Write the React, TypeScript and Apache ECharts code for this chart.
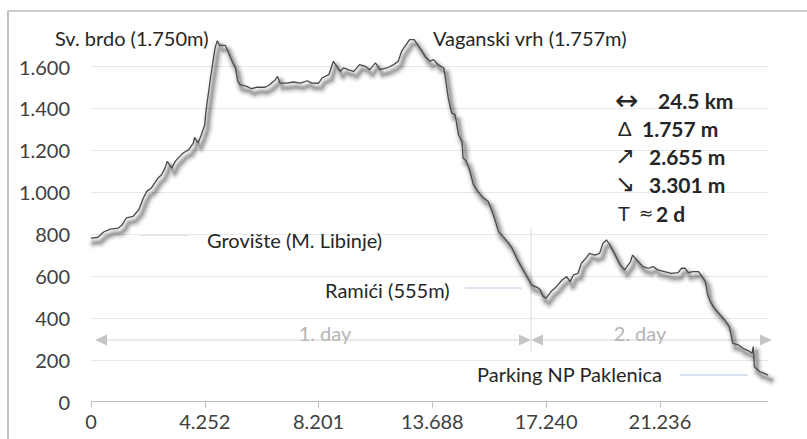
import React, { useEffect, useRef } from "react";
import * as echarts from "echarts";

// x position in category-index units (100 units between labelled ticks)
const distIdx = [
  0, 6, 11, 17, 24, 27, 31, 37, 42, 46,
  49, 53, 56, 59, 62, 65, 67, 71, 74, 78,
  81, 86, 90, 91, 94, 97, 100, 101, 103, 105,
  109, 111, 113, 118, 121, 124, 127, 129, 131, 137,
  141, 146, 153, 157, 162, 164, 166, 172, 178, 184,
  190, 194, 200, 203, 209, 213, 216, 219, 222, 226,
  231, 236, 241, 245, 250, 254, 260, 266, 270, 273,
  277, 280, 284, 288, 291, 294, 298, 301, 305, 310,
  311, 314, 317, 320, 323, 326, 327, 330, 333, 336,
  340, 345, 349, 352, 355, 358, 362, 367, 370, 374,
  378, 383, 387, 393, 395, 397, 400, 405, 409, 414,
  418, 421, 424, 428, 431, 436, 438, 443, 447, 450,
  453, 456, 460, 465, 469, 474, 476, 481, 485, 490,
  494, 498, 504, 510, 516, 519, 522, 525, 529, 534,
  537, 540, 542, 545, 548, 553, 557, 561, 564, 569,
  573, 578, 581, 582, 583, 588, 592, 595,
];

const elevation = [
  781, 785, 810, 824, 829, 842, 877, 885, 916, 972,
  1004, 1020, 1044, 1068, 1083, 1115, 1147, 1115, 1147, 1171,
  1187, 1203, 1235, 1262, 1235, 1274, 1322, 1386, 1465, 1545,
  1688, 1723, 1701, 1701, 1664, 1625, 1593, 1529, 1513, 1505,
  1494, 1501, 1501, 1513, 1537, 1553, 1521, 1521, 1526, 1521,
  1532, 1521, 1520, 1545, 1561, 1625, 1601, 1577, 1593, 1585,
  1577, 1609, 1601, 1585, 1617, 1585, 1593, 1609, 1625, 1673,
  1704, 1728, 1728, 1696, 1673, 1645, 1625, 1633, 1609, 1593,
  1561, 1450, 1378, 1370, 1274, 1243, 1163, 1147, 1100, 1036,
  1004, 972, 957, 916, 869, 813, 789, 757, 734, 686,
  646, 599, 558, 543, 533, 505, 494, 530, 549, 581,
  597, 573, 605, 613, 661, 692, 708, 700, 708, 756,
  772, 748, 708, 653, 629, 668, 700, 668, 645, 637,
  645, 629, 621, 613, 616, 637, 637, 616, 621, 621,
  597, 573, 509, 470, 446, 414, 390, 358, 279, 271,
  255, 243, 231, 263, 167, 143, 135, 127,
];

const xTickLabels = ["0", "4.252", "8.201", "13.688", "17.240", "21.236"];

const FONT = "Lato";
const FS = 20;

function fmtThousands(v: number): string {
  if (v >= 1000) {
    const t = Math.floor(v / 1000);
    const r = String(v % 1000).padStart(3, "0");
    return `${t}.${r}`;
  }
  return String(v);
}

function txt(text: string, x: number, y: number, opts: any = {}) {
  return {
    type: "text",
    x,
    y,
    silent: true,
    z: 10,
    style: {
      text,
      fill: opts.fill || "#262626",
      fontSize: opts.fontSize || FS,
      fontFamily: opts.fontFamily || FONT,
      fontWeight: opts.bold ? "bold" : "normal",
      align: opts.align || "left",
      verticalAlign: "middle",
    },
  };
}

function hline(x1: number, x2: number, y: number, color: string, w = 1) {
  return {
    type: "line",
    silent: true,
    shape: { x1, y1: y, x2, y2: y },
    style: { stroke: color, lineWidth: w },
  };
}

function tri(points: number[][], color: string) {
  return {
    type: "polygon",
    silent: true,
    shape: { points },
    style: { fill: color },
  };
}

const GRID = { left: 91, right: 39, top: 24.6, bottom: 37.3 };
const SH_DX = 3;
const SH_DY = 5;

export default function App() {
  const ref = useRef<HTMLDivElement>(null);

  useEffect(() => {
    if (!ref.current) return;
    const chart = echarts.init(ref.current, null, { renderer: "svg" });
    const data = distIdx.map((x, i) => [x, elevation[i]]);
    const arrowGray = "#c4c4c4";
    const leader = "#b9c9e2";

    const xBase = { type: "value", min: 0, max: 595, interval: 100 };
    const yBase = { type: "value", min: 0, max: 1800, interval: 200 };
    const hiddenAxis = {
      axisLine: { show: false },
      axisTick: { show: false },
      axisLabel: { show: false },
      splitLine: { show: false },
    };

    const shadowLayers = [
      { w: 12, o: 0.04 },
      { w: 9, o: 0.06 },
      { w: 6.5, o: 0.08 },
      { w: 4.5, o: 0.1 },
      { w: 2.5, o: 0.12 },
    ];

    chart.setOption({
      animation: false,
      backgroundColor: "#ffffff",
      grid: [
        { ...GRID, containLabel: false },
        {
          left: GRID.left + SH_DX,
          right: GRID.right - SH_DX,
          top: GRID.top + SH_DY,
          bottom: GRID.bottom - SH_DY,
          containLabel: false,
        },
      ],
      xAxis: [
        {
          ...xBase,
          gridIndex: 0,
          axisLine: { show: true, lineStyle: { color: "#bfbfbf", width: 1 } },
          axisTick: { show: true, length: 6, lineStyle: { color: "#bfbfbf" } },
          splitLine: { show: false },
          axisLabel: {
            showMaxLabel: false,
            color: "#404040",
            fontFamily: FONT,
            fontSize: FS,
            margin: 9,
            formatter: (v: number) => {
              const k = Math.round(v / 100);
              return v % 100 === 0 && xTickLabels[k] !== undefined ? xTickLabels[k] : "";
            },
          },
        },
        { ...xBase, gridIndex: 1, ...hiddenAxis },
      ],
      yAxis: [
        {
          ...yBase,
          gridIndex: 0,
          axisLine: { show: false },
          axisTick: { show: false },
          splitLine: {
            show: true,
            showMinLine: false,
            showMaxLine: false,
            lineStyle: { color: "#e8e8e8", width: 1 },
          },
          axisLabel: {
            showMaxLabel: false,
            color: "#404040",
            fontFamily: FONT,
            fontSize: FS,
            margin: 21,
            formatter: (v: number) => (v >= 1800 ? "" : fmtThousands(v)),
          },
        },
        { ...yBase, gridIndex: 1, ...hiddenAxis },
      ],
      series: [
        ...shadowLayers.map((l) => ({
          type: "line",
          xAxisIndex: 1,
          yAxisIndex: 1,
          data,
          showSymbol: false,
          symbol: "none",
          silent: true,
          lineStyle: { color: "#000000", width: l.w, opacity: l.o, join: "round", cap: "round" },
          z: 3,
        })),
        {
          type: "line",
          xAxisIndex: 0,
          yAxisIndex: 0,
          data,
          showSymbol: false,
          symbol: "none",
          lineStyle: { color: "#4a4a4a", width: 1.3 },
          z: 5,
        },
      ],
      graphic: {
        elements: [
          // frame
          hline(8, 807, 11, "#9a9a9a", 1),
          { type: "line", silent: true, shape: { x1: 8, y1: 11, x2: 8, y2: 439 }, style: { stroke: "#c0c0c0", lineWidth: 2 } },
          // peak labels
          txt("Sv. brdo (1.750m)", 55, 38),
          txt("Vaganski vrh (1.757m)", 433, 38),
          // stats block
          txt("\u2194", 615, 100, { fontSize: 28, fontFamily: "DejaVu Sans" }),
          txt("24.5 km", 658, 100, { bold: true, fontSize: 21 }),
          txt("\u0394", 618, 128, { fontSize: 20 }),
          txt("1.757 m", 642, 128, { bold: true, fontSize: 21 }),
          txt("\u2197", 615, 156, { fontSize: 24, fontFamily: "DejaVu Sans" }),
          txt("2.655 m", 649, 156, { bold: true, fontSize: 21 }),
          txt("\u2198", 615, 184, { fontSize: 24, fontFamily: "DejaVu Sans" }),
          txt("3.301 m", 649, 184, { bold: true, fontSize: 21 }),
          txt("T", 618, 213, { fontSize: 20 }),
          txt("\u2248", 639, 213, { fontSize: 17, fontFamily: "DejaVu Sans" }),
          txt("2 d", 656, 213, { bold: true, fontSize: 21 }),
          // place labels with leader lines
          hline(140, 189, 235, leader),
          txt("Grovi\u0161te (M. Libinje)", 207, 240),
          hline(465, 522, 288, leader),
          txt("Rami\u0107i (555m)", 325, 290),
          txt("Parking NP Paklenica", 477, 374),
          hline(680, 748, 375, leader),
          // day separator
          { type: "line", silent: true, shape: { x1: 531, y1: 228, x2: 531, y2: 352 }, style: { stroke: "#d9d9d9", lineWidth: 1 } },
          // day arrows
          hline(104, 520, 340, "#d6d6d6", 1),
          tri([[95, 340], [107, 334.5], [107, 345.5]], arrowGray),
          tri([[531, 340], [519, 334.5], [519, 345.5]], arrowGray),
          hline(543, 762, 340, "#d6d6d6", 1),
          tri([[531, 340], [543, 334.5], [543, 345.5]], arrowGray),
          tri([[772, 340], [760, 334.5], [760, 345.5]], arrowGray),
          txt("1. day", 325, 333, { fill: "#b5b5b5", align: "center" }),
          txt("2. day", 640, 333, { fill: "#b5b5b5", align: "center" }),
        ],
      },
    });

    return () => chart.dispose();
  }, []);

  return <div ref={ref} style={{ width: 807, height: 439, position: "absolute", left: 0, top: 0 }} />;
}
